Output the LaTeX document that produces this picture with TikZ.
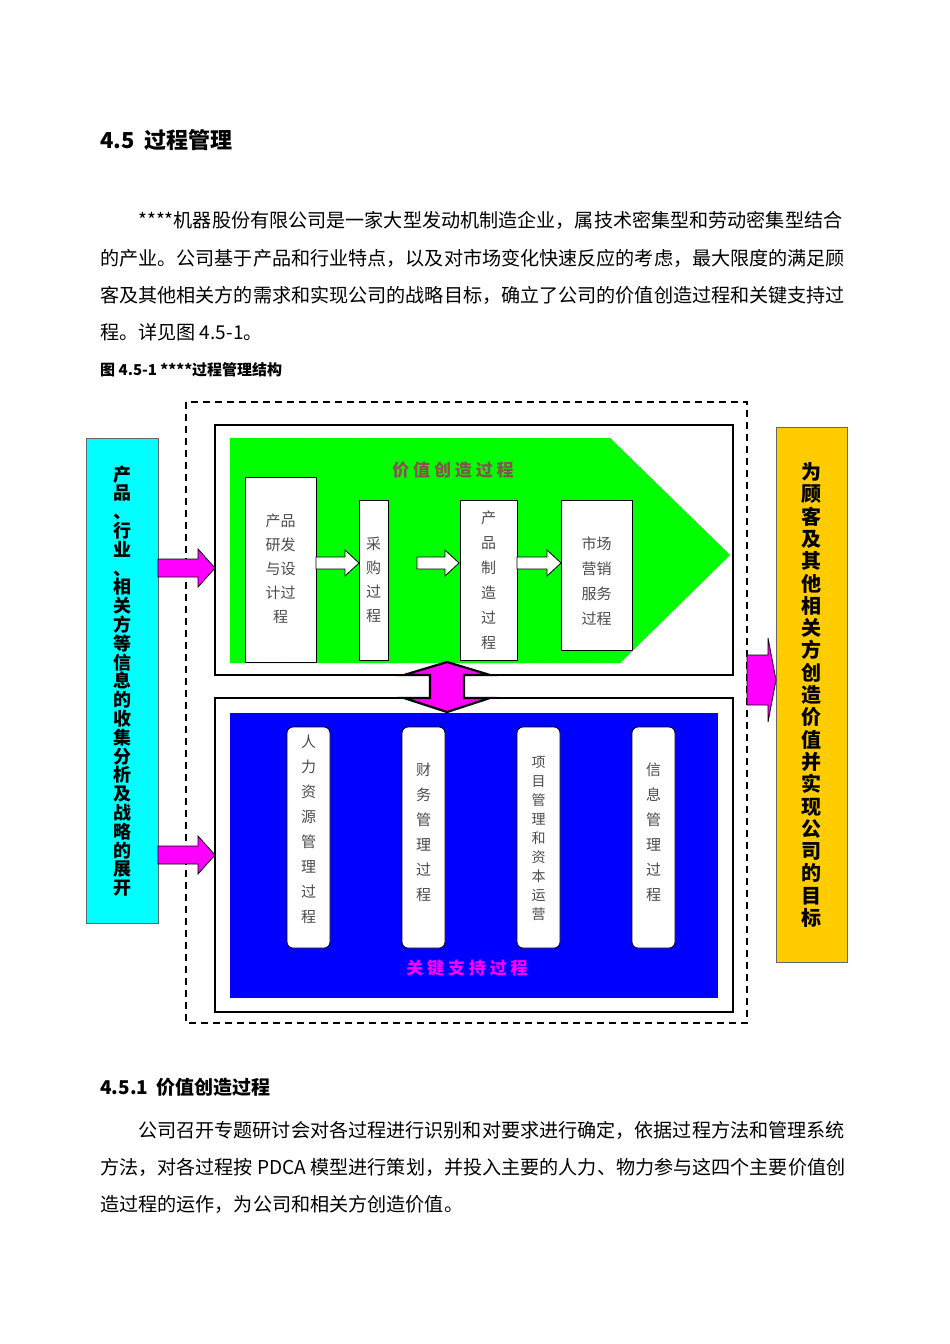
\documentclass[tikz,border=0pt]{standalone}
\usepackage{fontspec}
\newfontfamily\cjk{Noto Sans CJK SC}
\definecolor{mag}{RGB}{255,0,255}
\definecolor{cy}{RGB}{0,255,255}
\definecolor{gold}{RGB}{255,204,0}
\definecolor{lime}{RGB}{0,255,0}
\definecolor{blu}{RGB}{0,0,255}
\begin{document}
\begin{tikzpicture}[x=1pt,y=-1pt,
  body/.style={font=\cjk\fontsize{19.1}{19.1}\selectfont,anchor=west,inner sep=0},
  wbox/.style={draw=black,fill=white,line width=0.8pt},
  btxt/.style={font=\cjk\fontsize{15}{24}\selectfont,text=black!70,align=center},
  rbox/.style={draw=black,fill=white,rounded corners=6pt,line width=0.8pt},
  harrow/.style={draw=black,fill=white,line width=0.8pt},
  marrow/.style={draw=black,fill=mag,line width=0.8pt}]
\useasboundingbox (0,0) rectangle (950,1344);
\node[anchor=west,inner sep=0,font=\cjk\bfseries\fontsize{22}{22}\selectfont] (h1) at (100,140) {4.5\ \ 过程管理};
\node[body] (p1) at (138,220) {****机器股份有限公司是一家大型发动机制造企业，属技术密集型和劳动密集型结合};
\node[body] (p2) at (100,258) {的产业。公司基于产品和行业特点，以及对市场变化快速反应的考虑，最大限度的满足顾};
\node[body] (p3) at (100,295) {客及其他相关方的需求和实现公司的战略目标，确立了公司的价值创造过程和关键支持过};
\node[body] (p4) at (100,332) {程。详见图 4.5-1。};
\node[anchor=west,inner sep=0,font=\cjk\bfseries\fontsize{15}{15}\selectfont] (cap) at (100,370) {图 4.5-1 ****过程管理结构};
% dashed frame
\draw[line width=1.6pt,dash pattern=on 7pt off 5pt] (186,402) rectangle (747,1023);
% left box
\draw[fill=cy,draw=black!60] (86,438) rectangle (158,923);
\node[font=\cjk\bfseries\fontsize{18}{18.8}\selectfont,align=center,text width=20pt] (lt) at (122,681) {产\\品\\、\\行\\业\\、\\相\\关\\方\\等\\信\\息\\的\\收\\集\\分\\析\\及\\战\\略\\的\\展\\开};
% right box
\draw[fill=gold,draw=black!60] (776,427) rectangle (847,962);
\node[font=\cjk\bfseries\fontsize{20}{22.3}\selectfont,align=center,text width=22pt] (rt) at (811,695) {为\\顾\\客\\及\\其\\他\\相\\关\\方\\创\\造\\价\\值\\并\\实\\现\\公\\司\\的\\目\\标};
% magenta input arrows
\foreach \yy in {568,855}{
 \draw[marrow] (158,\yy-9) -- (198,\yy-9) -- (198,\yy-19) -- (215,\yy) -- (198,\yy+19) -- (198,\yy+9) -- (158,\yy+9) -- cycle;}
% output arrow
\draw[marrow] (747,655) -- (768,655) -- (768,638) -- (776,680) -- (768,722) -- (768,705) -- (747,705) -- cycle;
% top box
\draw[line width=2.5pt,fill=white] (215,425) rectangle (733,675);
\draw[fill=lime,draw=green!50!black,dotted] (230,438) -- (610,438) -- (730,555) -- (620,663) -- (230,663) -- cycle;
\node[font=\cjk\bfseries\fontsize{17}{17}\selectfont,text={rgb,255:red,140;green,80;blue,80}] (t1) at (453,470) {价\ 值\ 创\ 造\ 过\ 程};
\draw[wbox] (245,477) rectangle (316,662);
\node[btxt] (b1) at (280.5,569) {产品\\研发\\与设\\计过\\程};
\draw[wbox] (359,500) rectangle (388,660);
\node[btxt] (b2) at (373.5,580) {采\\购\\过\\程};
\draw[wbox] (460,500) rectangle (517,660);
\node[btxt,font=\cjk\fontsize{15}{25}\selectfont] (b3) at (488.5,580) {产\\品\\制\\造\\过\\程};
\draw[wbox] (561,500) rectangle (632,650);
\node[btxt,font=\cjk\fontsize{15}{25}\selectfont] (b4) at (596.5,581) {市场\\营销\\服务\\过程};
\foreach \xa/\xb in {316/359,417/459,517/561}{
 \draw[harrow] (\xa,557) -- (\xb-14,557) -- (\xb-14,550) -- (\xb,563) -- (\xb-14,576) -- (\xb-14,569) -- (\xa,569) -- cycle;}
% bottom box
\draw[line width=2.5pt,fill=white] (215,698) rectangle (733,1012);
\fill[blu] (230,713) rectangle (718,998);
\foreach \xx in {308.5,423.5,538.5,653.5}{
 \draw[rbox] (\xx-21.5,727) rectangle (\xx+21.5,948);}
\node[btxt,font=\cjk\fontsize{15}{25}\selectfont] (s1) at (308.5,829) {人\\力\\资\\源\\管\\理\\过\\程};
\node[btxt,font=\cjk\fontsize{15}{25}\selectfont] (s2) at (423.5,832) {财\\务\\管\\理\\过\\程};
\node[btxt,font=\cjk\fontsize{14}{19}\selectfont] (s3) at (538.5,838) {项\\目\\管\\理\\和\\资\\本\\运\\营};
\node[btxt,font=\cjk\fontsize{15}{25}\selectfont] (s4) at (653.5,832) {信\\息\\管\\理\\过\\程};
\node[font=\cjk\bfseries\fontsize{17}{17}\selectfont,text=mag] (t2) at (467,968) {关\ 键\ 支\ 持\ 过\ 程};
% double arrow
\draw[marrow,line width=2.2pt] (447,662) -- (490,675) -- (464,675) -- (464,698) -- (490,698) -- (447,712) -- (404,698) -- (430,698) -- (430,675) -- (404,675) -- cycle;
% section
\node[anchor=west,inner sep=0,font=\cjk\bfseries\fontsize{19}{19}\selectfont] (h2) at (100,1087) {4.5.1\ \ 价值创造过程};
\node[body] (q1) at (138,1130) {公司召开专题研讨会对各过程进行识别和对要求进行确定，依据过程方法和管理系统};
\node[body] (q2) at (100,1167) {方法，对各过程按 PDCA 模型进行策划，并投入主要的人力、物力参与这四个主要价值创};
\node[body] (q3) at (100,1204) {造过程的运作，为公司和相关方创造价值。};
\end{tikzpicture}
\end{document}
